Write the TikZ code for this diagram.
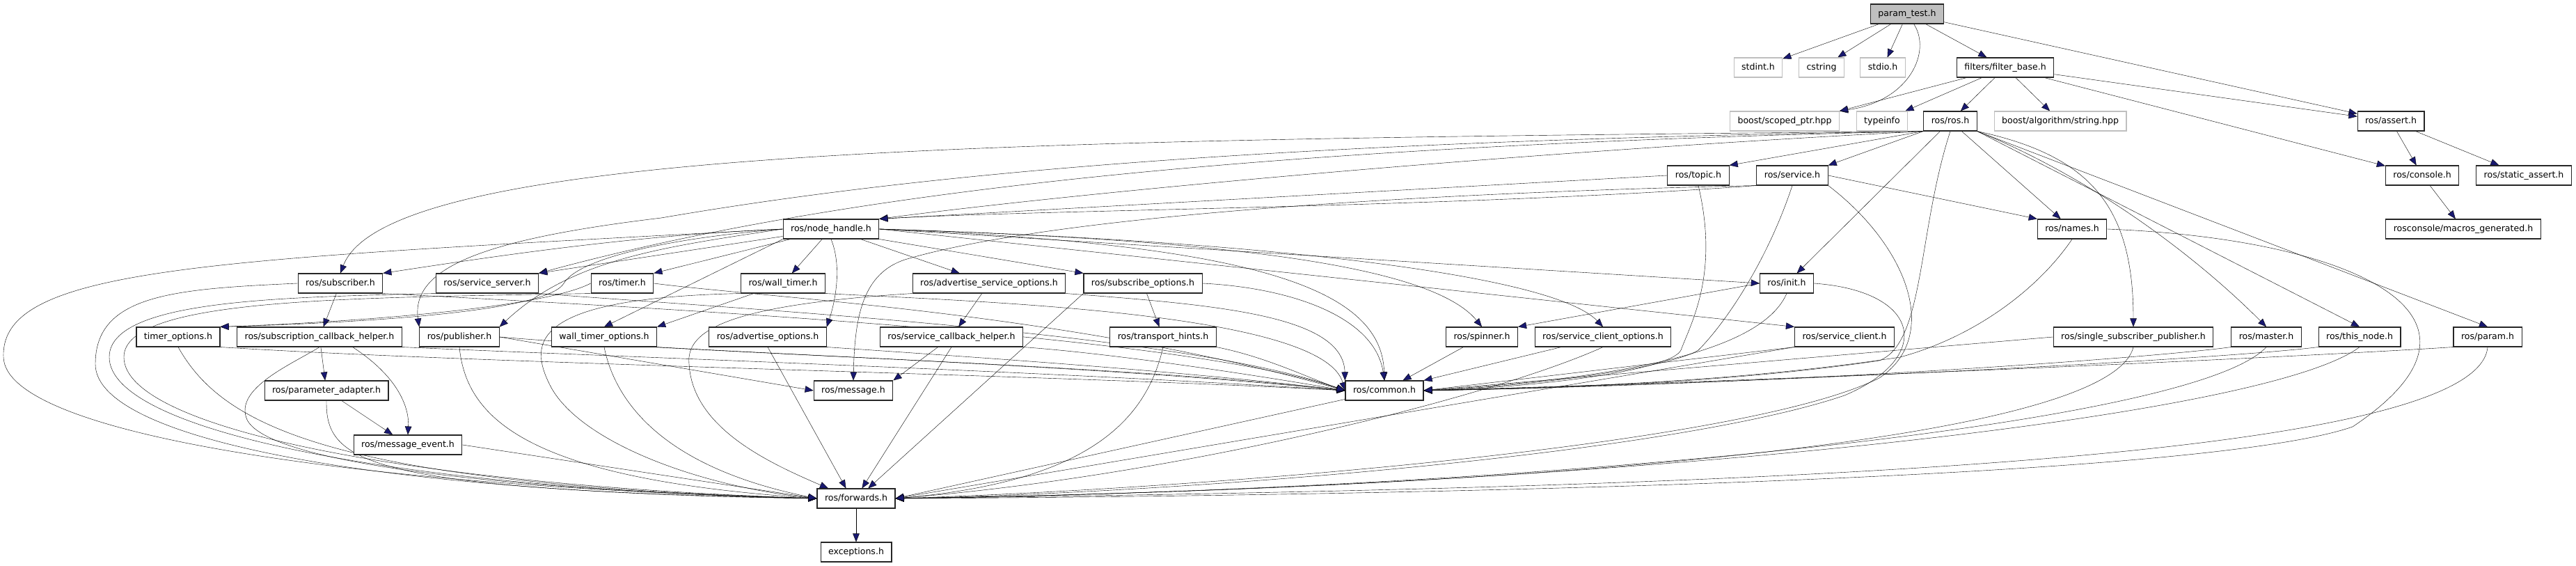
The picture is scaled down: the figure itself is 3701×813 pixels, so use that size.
\documentclass[tikz,border=0pt]{standalone}
\usepackage{fontspec}
\setmainfont{DejaVu Sans}
\usetikzlibrary{arrows.meta,backgrounds}
\definecolor{edgeblue}{RGB}{25,25,112}
\definecolor{grey75}{RGB}{191,191,191}
\tikzset{
  hdr/.style={draw=black!85,line width=1.1pt,fill=white,minimum height=28pt,
    inner xsep=11pt,inner ysep=0pt,text height=9.2pt,text depth=2.8pt,
    font=\fontsize{12.56}{15}\selectfont},
  ext/.style={hdr,draw=grey75},
  root/.style={hdr,fill=grey75},
  dep/.style={draw=edgeblue,line width=0.9pt,-{Triangle[length=12pt,width=9.5pt]}}
}
\begin{document}
\begin{tikzpicture}[x=1pt,y=1pt]
      \useasboundingbox (0,0) rectangle (3701,813);
      \draw
        (2740,793) node[root] (pt) {param\_test.h}
        (2526,716) node[ext] (stdint) {stdint.h}
        (2617,716) node[ext] (cstring) {cstring}
        (2705,716) node[ext] (stdio) {stdio.h}
        (2881,716) node[hdr] (filterbase) {filters/filter\_base.h}
        (2564,639) node[ext] (scopedptr) {boost/scoped\_ptr.hpp}
        (2704,639) node[ext] (typeinfo) {typeinfo}
        (2802,639) node[hdr] (ros) {ros/ros.h}
        (2960,639) node[ext] (algstring) {boost/algorithm/string.hpp}
        (3435,639) node[hdr] (assert) {ros/assert.h}
        (2440,561) node[hdr] (topic) {ros/topic.h}
        (2575,561) node[hdr] (service) {ros/service.h}
        (3480,561) node[hdr] (console) {ros/console.h}
        (3626,561) node[hdr] (staticassert) {ros/static\_assert.h}
        (1194,484) node[hdr] (nodehandle) {ros/node\_handle.h}
        (2977,484) node[hdr] (names) {ros/names.h}
        (3539,484) node[hdr] (macros) {rosconsole/macros\_generated.h}
        (489,406) node[hdr] (subscriber) {ros/subscriber.h}
        (700,406) node[hdr] (serviceserver) {ros/service\_server.h}
        (894,406) node[hdr] (timer) {ros/timer.h}
        (1125,406) node[hdr] (walltimer) {ros/wall\_timer.h}
        (1421,406) node[hdr] (advsrvopts) {ros/advertise\_service\_options.h}
        (1642,406) node[hdr] (subopts) {ros/subscribe\_options.h}
        (2567,406) node[hdr] (init) {ros/init.h}
        (256,329) node[hdr] (timeropts) {timer\_options.h}
        (459,329) node[hdr] (subcbhelper) {ros/subscription\_callback\_helper.h}
        (660,329) node[hdr] (publisher) {ros/publisher.h}
        (868,329) node[hdr] (walltimeropts) {wall\_timer\_options.h}
        (1103,329) node[hdr] (advopts) {ros/advertise\_options.h}
        (1367,329) node[hdr] (srvcbhelper) {ros/service\_callback\_helper.h}
        (1671,329) node[hdr] (transport) {ros/transport\_hints.h}
        (2129,329) node[hdr] (spinner) {ros/spinner.h}
        (2303,329) node[hdr] (srvclientopts) {ros/service\_client\_options.h}
        (2650,329) node[hdr] (srvclient) {ros/service\_client.h}
        (3065,329) node[hdr] (singlesubpub) {ros/single\_subscriber\_publisher.h}
        (3256,329) node[hdr] (master) {ros/master.h}
        (3390,329) node[hdr] (thisnode) {ros/this\_node.h}
        (3574,329) node[hdr] (param) {ros/param.h}
        (469,252) node[hdr] (paramadapter) {ros/parameter\_adapter.h}
        (1226,252) node[hdr] (message) {ros/message.h}
        (1989,252) node[hdr] (common) {ros/common.h}
        (586,174) node[hdr] (msgevent) {ros/message\_event.h}
        (1230,97) node[hdr] (forwards) {ros/forwards.h}
        (1230,20) node[hdr] (exceptions) {exceptions.h};
      \begin{scope}[on background layer,dep]
        \draw (pt) to (stdint);
        \draw (pt) to (cstring);
        \draw (pt) to (stdio);
        \draw (pt) .. controls (2775,740) and (2745,668) .. (scopedptr.north east);
        \draw (pt) to (filterbase);
        \draw (pt) to (assert);
        \draw (filterbase) to (scopedptr.north east);
        \draw (filterbase) to (typeinfo);
        \draw (filterbase) to (ros);
        \draw (filterbase) to (algstring);
        \draw (filterbase) to (assert);
        \draw (filterbase) to (console);
        \draw (assert) to (console);
        \draw (assert) to (staticassert);
        \draw (console) to (macros);
        \draw (ros.south west) .. controls (1500,612) and (560,605) .. (subscriber.north);
        \draw (ros.south west) .. controls (1800,610) and (1300,560) .. (950,500) .. controls (700,470) and (590,430) .. (publisher.north west);
        \draw (ros.south west) .. controls (1900,605) and (1250,550) .. (serviceserver.north east);
        \draw (ros.south west) .. controls (2100,590) and (1500,530) .. (nodehandle.north east);
        \draw (ros.south west) to (topic.north east);
        \draw (ros.south west) to (service.north east);
        \draw (ros) to (init);
        \draw (ros) to (names);
        \draw (ros.south) .. controls (2755,480) and (2765,320) .. (2700,295) .. controls (2500,265) and (2250,255) .. (common.east);
        \draw (ros.south east) .. controls (3000,590) and (3065,520) .. (singlesubpub.north);
        \draw (ros.south east) .. controls (3000,560) and (3150,450) .. (master.north);
        \draw (ros.south east) to (thisnode.north);
        \draw (ros.south east) to (param.north);
        \draw (topic.west) to (nodehandle.north east);
        \draw (topic.south) .. controls (2470,420) and (2430,350) .. (2415,310) .. controls (2400,280) and (2200,256) .. (common.east);
        \draw (service.south west) .. controls (2100,515) and (1500,512) .. (nodehandle.north east);
        \draw (service.east) to (names.north west);
        \draw (service.south) .. controls (2540,440) and (2480,350) .. (2440,310) .. controls (2400,285) and (2200,258) .. (common.east);
        \draw (service.south east) .. controls (2740,460) and (2790,330) .. (2700,270) .. controls (2500,170) and (1700,110) .. (forwards.east);
        \draw (service.south west) .. controls (2000,535) and (1500,500) .. (1300,440) .. controls (1240,420) and (1228,360) .. (message.north);
        \draw (init.west) to (spinner.north east);
        \draw (init.south) .. controls (2540,330) and (2420,275) .. (common.east);
        \draw (init.east) .. controls (2760,395) and (2780,300) .. (2650,245) .. controls (2400,160) and (1700,105) .. (forwards.east);
        \draw (names.south) .. controls (2930,400) and (2840,330) .. (2730,300) .. controls (2500,265) and (2250,256) .. (common.east);
        \draw (names.east) .. controls (3380,470) and (3620,360) .. (3380,200) .. controls (3150,120) and (1900,100) .. (forwards.east);
        \draw (singlesubpub.west) to (common.east);
        \draw (singlesubpub.south) .. controls (3030,170) and (2100,110) .. (forwards.east);
        \draw (master.south west) .. controls (3100,300) and (2600,262) .. (common.east);
        \draw (master.south) .. controls (3150,200) and (2200,110) .. (forwards.east);
        \draw (thisnode.south west) .. controls (3200,298) and (2600,265) .. (common.east);
        \draw (thisnode.south) .. controls (3250,210) and (2300,112) .. (forwards.east);
        \draw (param.south west) .. controls (3300,300) and (2600,268) .. (common.east);
        \draw (param.south) .. controls (3560,150) and (2500,112) .. (forwards.east);
        \draw (srvclient.south west) to (common.east);
        \draw (srvclient.south west) to (forwards.east);
        \draw (srvclientopts) to (common.north east);
        \draw (srvclientopts.south) .. controls (2150,245) and (1700,130) .. (forwards.east);
        \draw (spinner) to (common);
        \draw (common) to (forwards.east);
        \draw (nodehandle.west) .. controls (900,475) and (680,440) .. (subscriber.north east);
        \draw (nodehandle) to (serviceserver.north east);
        \draw (nodehandle) to (timer.north east);
        \draw (nodehandle) to (walltimer);
        \draw (nodehandle.south west) to (walltimeropts.north);
        \draw (nodehandle.south) .. controls (1210,430) and (1200,380) .. (advopts.north east);
        \draw (nodehandle) to (advsrvopts);
        \draw (nodehandle.south east) to (subopts.north west);
        \draw (nodehandle.east) to (init.west);
        \draw (nodehandle.east) to (srvclient.north west);
        \draw (nodehandle.east) .. controls (1700,470) and (2050,440) .. (spinner.north);
        \draw (nodehandle.east) .. controls (1800,468) and (2230,420) .. (srvclientopts.north);
        \draw (nodehandle.east) .. controls (1800,462) and (1985,400) .. (common.north);
        \draw (nodehandle.west) .. controls (300,440) and (0,430) .. (5,300) .. controls (8,190) and (500,115) .. (forwards.west);
        \draw (nodehandle.west) .. controls (950,458) and (820,440) .. (publisher.north east);
        \draw (nodehandle.west) .. controls (950,470) and (830,440) .. (810,406) .. controls (790,372) and (600,352) .. (timeropts.north east);
        \draw (subscriber) to (subcbhelper);
        \draw (subscriber.south east) .. controls (1000,368) and (1700,330) .. (common.west);
        \draw (subscriber.west) .. controls (250,398) and (137,390) .. (137,290) .. controls (137,180) and (550,105) .. (forwards.west);
        \draw (serviceserver.south east) .. controls (1050,370) and (1700,335) .. (common.west);
        \draw (serviceserver.south west) .. controls (400,386) and (157,382) .. (157,300) .. controls (157,195) and (560,112) .. (forwards.west);
        \draw (timer.west) .. controls (780,370) and (500,350) .. (timeropts.north east);
        \draw (timer.east) .. controls (1100,385) and (1530,365) .. (common.west);
        \draw (timer.south west) .. controls (500,385) and (178,385) .. (178,300) .. controls (178,200) and (570,118) .. (forwards.west);
        \draw (walltimer) to (walltimeropts.north east);
        \draw (walltimer.south east) .. controls (1400,380) and (1900,365) .. (common.west);
        \draw (walltimer.south west) .. controls (760,385) and (760,320) .. (790,260) .. controls (830,180) and (1000,115) .. (forwards.west);
        \draw (publisher.east) to (message.west);
        \draw (publisher.south) .. controls (670,210) and (760,125) .. (forwards.west);
        \draw (publisher.east) .. controls (1000,305) and (1600,290) .. (common.west);
        \draw (timeropts.south) .. controls (320,200) and (480,118) .. (forwards.west);
        \draw (timeropts.south east) .. controls (700,290) and (1500,275) .. (common.west);
        \draw (subcbhelper) to (paramadapter);
        \draw (subcbhelper.-17) .. controls (575,270) and (588,225) .. (msgevent.north);
        \draw (subcbhelper.south) .. controls (420,290) and (335,255) .. (355,210) .. controls (385,150) and (700,110) .. (forwards.west);
        \draw (subcbhelper.south east) .. controls (900,300) and (1500,280) .. (common.west);
        \draw (paramadapter) to (msgevent);
        \draw (paramadapter.south) .. controls (468,150) and (520,110) .. (forwards.west);
        \draw (msgevent.east) to (forwards.west);
        \draw (walltimeropts.south) .. controls (885,230) and (960,140) .. (forwards.west);
        \draw (walltimeropts.south east) .. controls (1200,300) and (1600,285) .. (common.west);
        \draw (advopts.south) to (forwards.135);
        \draw (advopts.south east) .. controls (1400,300) and (1700,280) .. (common.west);
        \draw (srvcbhelper) to (message.north east);
        \draw (srvcbhelper.south) to (forwards.60);
        \draw (srvcbhelper.south east) .. controls (1600,305) and (1800,275) .. (common.west);
        \draw (advsrvopts) to (srvcbhelper);
        \draw (advsrvopts.south east) .. controls (1750,375) and (1930,360) .. (common.north west);
        \draw (advsrvopts.south west) .. controls (1050,375) and (985,340) .. (990,290) .. controls (995,200) and (1100,150) .. (forwards.160);
        \draw (subopts) to (transport);
        \draw (subopts.south west) to (forwards.40);
        \draw (subopts.east) .. controls (1850,400) and (1975,360) .. (common.north);
        \draw (transport.south) .. controls (1645,200) and (1550,120) .. (forwards.east);
        \draw (transport.south east) .. controls (1820,300) and (1880,270) .. (common.west);
        \draw (forwards) to (exceptions);
      \end{scope}
    \end{tikzpicture}
\end{document}
